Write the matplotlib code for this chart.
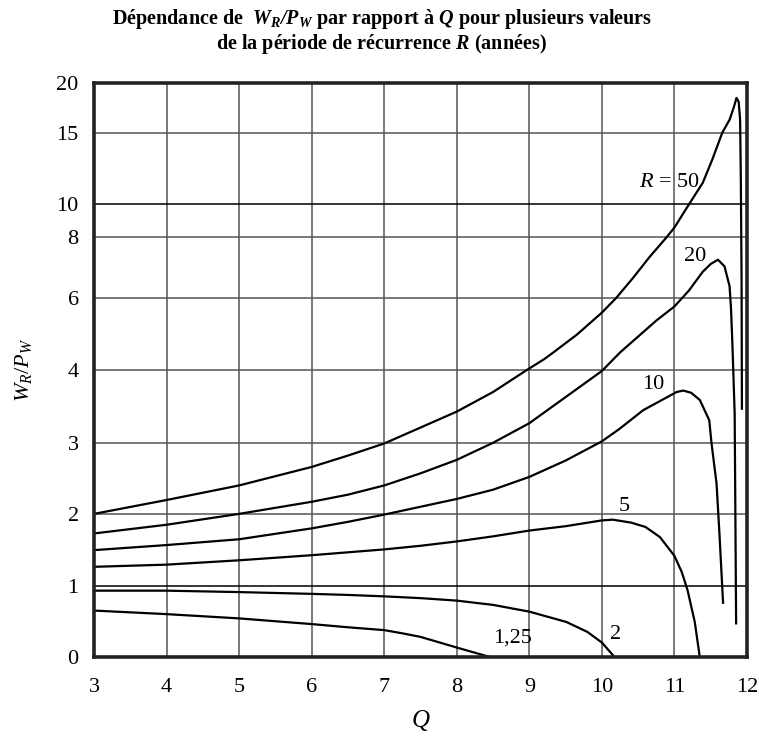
import numpy as np
import matplotlib
matplotlib.use("Agg")
import matplotlib.pyplot as plt

plt.rcParams['font.family'] = ['Liberation Serif', 'DejaVu Serif']
plt.rcParams['mathtext.fontset'] = 'custom'
plt.rcParams['mathtext.rm'] = 'Liberation Serif'
plt.rcParams['mathtext.it'] = 'Liberation Serif:italic'
plt.rcParams['mathtext.bf'] = 'Liberation Serif:bold'
plt.rcParams['mathtext.bfit'] = 'Liberation Serif:italic:bold'

# y axis of the original is not linear: tick values and where they sit (in axis units)
y_ticks = [0, 1, 2, 3, 4, 6, 8, 10, 15, 20]
y_tick_units = [0, 0.99, 2.0, 2.99, 4.0, 5.01, 5.85, 6.31, 7.31, 8.0]

x_ticks = [3, 4, 5, 6, 7, 8, 9, 10, 11, 12]

# curves (Q, W_R/P_W)
q_r50 = [3.0, 4.0, 5.0, 6.0, 6.5, 7.0, 7.5, 8.0, 8.5, 8.96, 9.2, 9.33, 9.66, 10.0, 10.2,
         10.43, 10.66, 10.89, 11.0, 11.2, 11.39, 11.52, 11.66, 11.76, 11.82, 11.855, 11.885,
         11.905, 11.915, 11.925, 11.93]
y_r50 = [2.0, 2.195, 2.4, 2.66, 2.82, 2.99, 3.21, 3.43, 3.7, 4.0, 4.3, 4.49, 4.99, 5.59, 6.0,
         6.66, 7.36, 8.0, 8.6, 10.0, 11.5, 13.1, 15.0, 16.3, 17.6, 18.5, 18.1,
         16.3, 11.7, 6.6, 3.47]

q_r20 = [3.0, 4.0, 5.0, 6.0, 6.5, 7.0, 7.5, 8.0, 8.5, 9.0, 9.5, 10.0, 10.25, 10.5, 10.75,
         11.0, 11.2, 11.39, 11.5, 11.6, 11.69, 11.76, 11.78, 11.8, 11.83, 11.85]
y_r20 = [1.73, 1.85, 2.0, 2.17, 2.27, 2.4, 2.57, 2.76, 3.0, 3.27, 3.63, 3.99, 4.49, 4.93, 5.37,
         5.76, 6.24, 6.86, 7.12, 7.26, 7.04, 6.38, 5.68, 4.65, 3.4, 0.48]

q_r10 = [3.0, 4.0, 5.0, 6.0, 6.5, 7.0, 7.5, 8.0, 8.5, 9.0, 9.5, 10.0, 10.24, 10.57, 11.03,
         11.12, 11.23, 11.35, 11.48, 11.51, 11.58, 11.62, 11.67]
y_r10 = [1.5, 1.57, 1.65, 1.8, 1.89, 1.99, 2.1, 2.21, 2.34, 2.52, 2.75, 3.02, 3.19, 3.45, 3.7,
         3.72, 3.69, 3.59, 3.31, 3.0, 2.43, 1.73, 0.77]

q_r5 = [3.0, 4.0, 5.0, 6.0, 6.5, 7.0, 7.5, 8.0, 8.5, 9.0, 9.5, 10.0, 10.15, 10.4, 10.6,
        10.8, 11.0, 11.1, 11.18, 11.28, 11.35]
y_r5 = [1.27, 1.3, 1.36, 1.43, 1.47, 1.51, 1.56, 1.62, 1.69, 1.77, 1.83, 1.91, 1.92, 1.88,
        1.82, 1.68, 1.42, 1.2, 0.95, 0.5, 0.0]

q_r2 = [3.0, 4.0, 5.0, 6.0, 6.5, 7.0, 7.5, 8.0, 8.5, 9.0, 9.51, 9.8, 10.0, 10.18]
y_r2 = [0.94, 0.94, 0.92, 0.895, 0.88, 0.86, 0.835, 0.8, 0.74, 0.645, 0.5, 0.36, 0.21, 0.0]

q_r125 = [3.0, 4.0, 5.0, 6.0, 6.5, 7.0, 7.25, 7.5, 8.0, 8.48]
y_r125 = [0.66, 0.61, 0.55, 0.47, 0.425, 0.385, 0.34, 0.29, 0.14, 0.0]


def fwd(v):
    return np.interp(v, y_ticks, y_tick_units)


def inv(u):
    return np.interp(u, y_tick_units, y_ticks)


fig = plt.figure(figsize=(7.59, 7.48), dpi=100)
ax = fig.add_axes([0.1238, 0.121, 0.8604, 0.768])
ax.set_yscale('function', functions=(fwd, inv))
ax.set_xlim(3, 12)
ax.set_ylim(0, 20)

# grid
for q in x_ticks[1:-1]:
    ax.axvline(q, color='#555555', lw=1.1, zorder=1)
for v in y_ticks[1:-1]:
    c = 'black' if v in (1, 10) else '#555555'
    ax.axhline(v, color=c, lw=1.1, zorder=1)

lw = 1.6
ax.plot(q_r50, y_r50, color='black', lw=lw, zorder=3)
ax.plot(q_r20, y_r20, color='black', lw=lw, zorder=3)
ax.plot(q_r10, y_r10, color='black', lw=lw, zorder=3)
ax.plot(q_r5, y_r5, color='black', lw=lw, zorder=3)
ax.plot(q_r2, y_r2, color='black', lw=lw, zorder=3)
ax.plot(q_r125, y_r125, color='black', lw=lw, zorder=3)

fs = 16
ax.text(10.93, 11.5, "$R$ = 50", fontsize=fs, ha='center', va='center')
ax.text(11.28, 7.36, "20", fontsize=fs, ha='center', va='center')
ax.text(10.71, 3.8, "10", fontsize=fs, ha='center', va='center')
ax.text(10.31, 2.1, "5", fontsize=fs, ha='center', va='center')
ax.text(10.19, 0.33, "2", fontsize=fs, ha='center', va='center')
ax.text(8.77, 0.27, "1,25", fontsize=fs, ha='center', va='center')

ax.set_xticks(x_ticks)
ax.set_yticks(y_ticks)
ax.set_xticklabels([str(t) for t in x_ticks], fontsize=fs)
ax.set_yticklabels([str(t) for t in y_ticks], fontsize=fs)
ax.tick_params(axis='y', length=0, pad=11)
ax.tick_params(axis='x', length=0, pad=15)
ax.minorticks_off()
for s in ax.spines.values():
    s.set_linewidth(2.6)
    s.set_color('#222222')
    s.set_zorder(4)

ax.set_ylabel("$W_R/P_W$", fontsize=fs, labelpad=16)
ax.set_xlabel("$Q$", fontsize=fs + 2, labelpad=8)

fig.text(0.503, 0.99,
         "Dépendance de  $\\mathbfit{W_R/P_W}$ par rapport à $\\mathbfit{Q}$ pour plusieurs valeurs\n"
         "de la période de récurrence $\\mathbfit{R}$ (années)",
         fontsize=14.5, fontweight='bold', ha='center', va='top', linespacing=1.05)

fig.savefig("out.png", dpi=100)
